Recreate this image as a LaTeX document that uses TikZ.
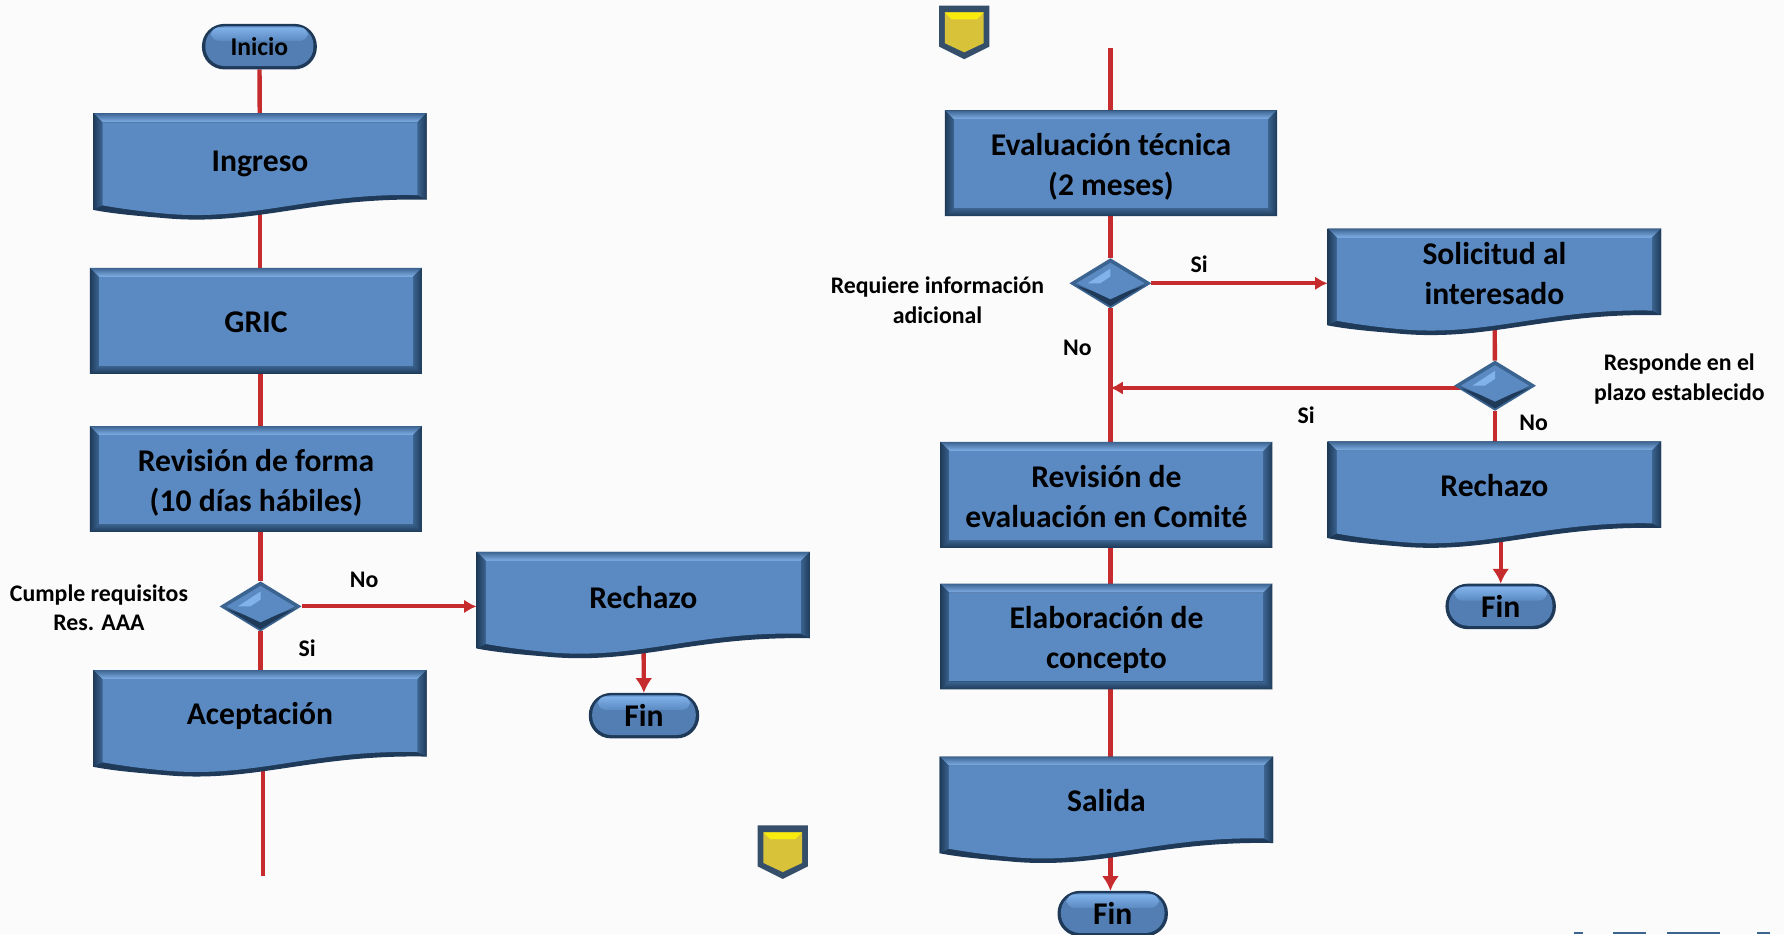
\documentclass[tikz,border=0pt]{standalone}
\usepackage{fontspec}
\setmainfont{Carlito}
\usetikzlibrary{arrows.meta,backgrounds,shapes.geometric}

\pgfdeclarelayer{boxes}
\pgfsetlayers{background,boxes,main}

\definecolor{facecol}{HTML}{5B8AC3}
\definecolor{lightcol}{HTML}{82B2EA}
\definecolor{darkcol}{HTML}{1E3A58}
\definecolor{sidecol}{HTML}{3C6491}
\definecolor{linecol}{HTML}{C62C2E}
\definecolor{goldcol}{HTML}{D8C23A}
\definecolor{paper}{HTML}{FBFBFB}

\tikzset{
	labeltext/.style={font=\fontsize{5.95}{7.4}\selectfont\bfseries, align=center, inner sep=0},
	boxtext/.style={font=\fontsize{7.9}{10}\selectfont\bfseries, align=center, text=black, outer sep=0},
	procbox/.style={boxtext, rectangle, inner sep=0, minimum width=2.92cm, minimum height=0.93cm,
		append after command={\pgfextra{\begin{pgfonlayer}{boxes}
			\begin{scope}[shift={([shift={(0, #1)}]\tikzlastnode.north west)}]
				\fill[darkcol] (0, 0) rectangle (292, 93);
				\shade[top color=sidecol, bottom color=lightcol] (0, 0) -- (292, 0) -- (284, 8) -- (8, 8) -- cycle;
				\shade[left color=darkcol, right color=sidecol] (0, 0) -- (8, 8) -- (8, 86) -- (0, 93) -- cycle;
				\shade[left color=sidecol, right color=darkcol] (292, 0) -- (284, 8) -- (284, 86) -- (292, 93) -- cycle;
				\shade[top color=sidecol, bottom color=darkcol] (0, 93) -- (8, 86) -- (284, 86) -- (292, 93) -- cycle;
				\fill[facecol] (8, 8) rectangle (284, 86);
			\end{scope}
		\end{pgfonlayer}}}},
	procbox/.default=0,
	docbox/.style={boxtext, rectangle, inner sep=0, minimum width=2.93cm, minimum height=0.93cm,
		append after command={\pgfextra{\begin{pgfonlayer}{boxes}
			\begin{scope}[shift={([shift={(0, #1)}]\tikzlastnode.north west)}]
				\fill[darkcol] (0, 0) -- (293, 0) -- (293, 76) .. controls (190, 74) and (140, 100) .. (60, 92) .. controls (35, 90) and (15, 88) .. (0, 85) -- cycle;
				\shade[top color=sidecol, bottom color=lightcol] (0, 0) -- (293, 0) -- (285, 8) -- (8, 8) -- cycle;
				\shade[left color=darkcol, right color=sidecol] (0, 0) -- (8, 8) -- (8, 81) -- (0, 85) -- cycle;
				\shade[left color=sidecol, right color=darkcol] (293, 0) -- (285, 8) -- (285, 72) -- (293, 76) -- cycle;
				\fill[facecol] (8, 8) -- (285, 8) -- (285, 72) .. controls (190, 70) and (140, 96) .. (60, 88) .. controls (40, 86) and (25, 84) .. (8, 81) -- cycle;
			\end{scope}
		\end{pgfonlayer}}}},
	docbox/.default=0,
	endbox/.style={boxtext, rectangle, inner sep=0, minimum height=0.4cm,
		append after command={\pgfextra{\begin{pgfonlayer}{boxes}
			\fill[darkcol, rounded corners=5.6pt] (\tikzlastnode.north west) rectangle (\tikzlastnode.south east);
			\fill[facecol!85!darkcol, rounded corners=4.8pt] ([shift={(3, 2)}]\tikzlastnode.north west) rectangle ([shift={(-3, -3)}]\tikzlastnode.south east);
			\shade[top color=lightcol, bottom color=facecol, rounded corners=2pt] ([shift={(8, 3)}]\tikzlastnode.north west) rectangle ([shift={(-8, 15)}]\tikzlastnode.north east);
		\end{pgfonlayer}}}},
	askbox/.style={diamond, inner sep=0, outer sep=0, minimum width=0.72cm, minimum height=0.44cm,
		append after command={\pgfextra{\begin{pgfonlayer}{boxes}
			\begin{scope}[shift={(\tikzlastnode.center)}]
				\fill[sidecol] (-36, 0) -- (0, -22) -- (36, 0) -- (0, 22) -- cycle;
				\fill[darkcol] (-30, 2) -- (0, 20) -- (30, 2) -- (0, 12) -- cycle;
				\fill[facecol] (-30, 0) -- (0, -18) -- (30, 0) -- (0, 14) -- cycle;
				\fill[lightcol] (-20, 0) -- (0, -13) -- (0, -6) -- (-9, 0) -- cycle;
			\end{scope}
		\end{pgfonlayer}}}},
	pagemark/.style={rectangle, inner sep=0, outer sep=0, minimum width=0.44cm, minimum height=0.47cm,
		append after command={\pgfextra{\begin{pgfonlayer}{boxes}
			\begin{scope}[shift={(\tikzlastnode.north west)}]
				\fill[darkcol!90!white] (0, 0) -- (44, 0) -- (44, 36) -- (22, 47) -- (0, 36) -- cycle;
				\fill[goldcol] (5, 6) -- (39, 6) -- (39, 33) -- (22, 41) -- (5, 33) -- cycle;
				\fill[yellow!85!goldcol] (5, 6) -- (39, 6) -- (33, 12) -- (11, 12) -- cycle;
			\end{scope}
		\end{pgfonlayer}}}},
	flowline/.style={-, draw=linecol, line width=1.1pt},
	flowarrow/.style={-{Latex[length=0.13cm,width=0.15cm]}, draw=linecol, line width=1.1pt},
	sidearrow/.style={-{Latex[length=0.11cm,width=0.12cm]}, draw=linecol, line width=1pt}
}

\begin{document}
\begin{tikzpicture}[x=0.01cm, y=-0.01cm]
	
	\useasboundingbox (0, 0) rectangle (1568, 821);
	
	\node[endbox, minimum width=1.01cm, font=\fontsize{6.4}{8}\selectfont\bfseries] (inicio) at (228, 41) {Inicio};
	\node[docbox=2] (ingreso) at (228.5, 144) {Ingreso};
	\node[procbox=-1] (gric) at (225, 283) {GRIC};
	\node[procbox=-3] (forma) at (225, 424) {Revisión de forma\\(10 días hábiles)};
	\node[askbox] (cumple) at (229, 533) {};
	\node[docbox=6.5] (rechazoA) at (565.5, 525) {Rechazo};
	\node[endbox, minimum width=0.97cm] (finA) at (566, 629) {Fin};
	\node[docbox=6.5] (aceptacion) at (228.5, 629) {Aceptación};
	\coordinate (corte) at (231, 770);
	\node[pagemark] (marcaA) at (688, 749) {};
	
	\node[pagemark] (marcaB) at (847.5, 28.5) {};
	\coordinate (arranque) at (976, 42);
	\node[procbox=-3] (tecnica) at (976.5, 146.5) {Evaluación técnica\\(2 meses)};
	\node[askbox] (requiere) at (976, 249) {};
	\node[docbox=7.5] (solicitud) at (1313.5, 240) {Solicitud al\\interesado};
	\node[askbox] (responde) at (1314, 339) {};
	\node[docbox=7.5] (rechazoB) at (1313.5, 427) {Rechazo};
	\node[endbox, minimum width=0.97cm] (finB) at (1319, 533) {Fin};
	\node[procbox=-1] (comite) at (972.5, 436) {Revisión de\\evaluación en Comité};
	\node[procbox=-3] (concepto) at (972.5, 562.5) {Elaboración de\\concepto};
	\node[docbox=7.5] (salida) at (972.5, 704) {Salida};
	\node[endbox, minimum width=0.97cm] (finC) at (978, 803) {Fin};
	
	\node[labeltext] (cumpletxt) at (87, 534) {Cumple requisitos\\Res. AAA};
	\node[labeltext] (cumpleno) at (320, 510) {No};
	\node[labeltext] (cumplesi) at (270, 570) {Si};
	\node[labeltext] (requieretxt) at (824, 264) {Requiere información\\adicional};
	\node[labeltext] (requieresi) at (1054, 232) {Si};
	\node[labeltext] (requiereno) at (947, 306) {No};
	\node[labeltext] (respondetxt) at (1476, 333) {Responde en el\\plazo establecido};
	\node[labeltext] (respondesi) at (1148, 365) {Si};
	\node[labeltext] (respondeno) at (1348, 372) {No};
	
	\begin{pgfonlayer}{boxes}
		\foreach \xa/\xb in {1383/1391, 1418/1447, 1465/1512, 1544/1556}
			\fill[sidecol] (\xa, 819) rectangle (\xb, 821);
	\end{pgfonlayer}
	
	\begin{pgfonlayer}{background}
		\fill[paper] (0, 0) rectangle (1568, 821);
		
		\path[flowline] (inicio) edge (ingreso.center);
		\path[flowline] (ingreso.center) edge (ingreso |- gric.north);
		\path[flowline] (cumple |- gric) edge (cumple |- forma);
		\path[flowline] (cumple |- forma) edge (cumple);
		\path[flowline] (cumple) edge (cumple |- aceptacion);
		\path (cumple) edge[sidearrow] (cumple -| rechazoA.west);
		\path (rechazoA.center) edge[flowarrow] (finA);
		\path[flowline] (corte |- aceptacion) edge (corte);
		
		\path[flowline] (arranque) edge (arranque |- tecnica);
		\path[flowline] (arranque |- tecnica) edge (requiere);
		\path (requiere) edge[sidearrow] (requiere -| solicitud.west);
		\path[flowline] (requiere) edge (requiere |- comite);
		\path[flowline] (solicitud.center) edge (responde);
		\path ([yshift=-0.02cm]responde.center) edge[sidearrow] ([yshift=-0.02cm]responde -| requiere);
		\path[flowline] (responde) edge (responde |- rechazoB);
		\path (finB |- rechazoB) edge[flowarrow] (finB);
		\path[flowline] (requiere |- comite) edge (requiere |- concepto);
		\path[flowline] (requiere |- concepto) edge (requiere |- salida);
		\path (requiere |- salida) edge[flowarrow] (requiere |- finC.north);
	\end{pgfonlayer}
	
\end{tikzpicture}
\end{document}
